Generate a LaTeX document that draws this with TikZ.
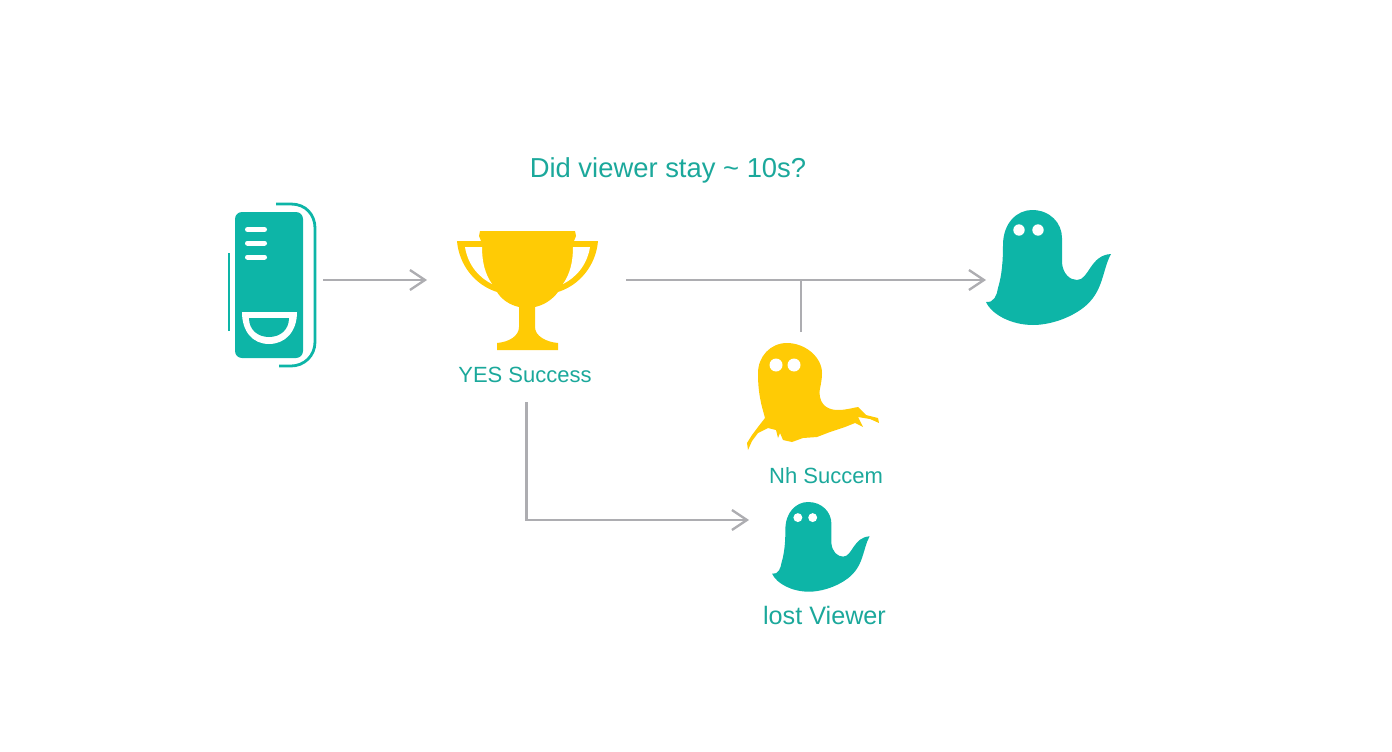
\documentclass[tikz,border=0pt]{standalone}
\usepackage{fontspec}
\setmainfont{Liberation Sans}
\usetikzlibrary{arrows.meta}
\definecolor{tealicon}{HTML}{0DB5A7}
\definecolor{tealtext}{HTML}{1BA89B}
\definecolor{goldicon}{HTML}{FFCB05}
\definecolor{flowgray}{HTML}{ADADB1}
\tikzset{
	icon/.style={inner sep=0pt,outer sep=0pt},
	flow/.style={draw=flowgray,line width=2.3pt,-{Straight Barb[length=15pt,width=20pt,line width=2.3pt]}},
	branch/.style={draw=flowgray,line width=2.3pt},
	lbl/.style={text=tealtext,inner sep=0pt,font=\fontsize{22}{26}\selectfont},
	pics/ghost/.style={code={
		\fill [tealicon] (-46,42) .. controls (-38,43) and (-35,35) .. (-34,28)
			.. controls (-30,15) and (-29,0) .. (-29,-15)
			.. controls (-29,-37) and (-15,-50) .. (0,-50)
			.. controls (18,-50) and (30,-37) .. (30,-22) -- (30,3)
			.. controls (31,14) and (38,20) .. (45,20)
			.. controls (57,20) and (58,-5) .. (79,-6)
			.. controls (70,10) and (72,32) .. (51,48)
			.. controls (35,60) and (15,65) .. (1,65)
			.. controls (-20,65) and (-40,55) .. (-46,42) -- cycle;
		\fill [white] (-13,-30) circle (5.7);
		\fill [white] (6,-30) circle (5.7);
	}}
}
\begin{document}
\begin{tikzpicture}[x=1pt,y=-1pt]
	\useasboundingbox (0,0) rectangle (1392,752);
	% boxes the connectors end on
	\node [icon,minimum width=98pt,minimum height=170pt] (device) at (274,280) {};
	\node [icon,minimum width=199pt,minimum height=244pt] (trophy) at (526.5,280) {};
	\node [icon,minimum width=125pt,minimum height=125pt] (ghostright) at (1048.5,280) {};
	\node [icon,minimum width=130pt,minimum height=116pt] (ghostno) at (801,390) {};
	\node [icon,minimum width=118pt,minimum height=90pt] (ghostlost) at (808,520) {};
	% device
	\fill [tealicon,rounded corners=7pt] (235,212) rectangle (303,358);
	\draw [white,line width=5pt,line cap=round] (247.5,229.5) to (264.5,229.5);
	\draw [white,line width=5pt,line cap=round] (247.5,243) to (264.5,243);
	\draw [white,line width=5pt,line cap=round] (247.5,257) to (264.5,257);
	\fill [white] (242,312) -- (297,312) .. controls (297,332) and (285,344) .. (269,344)
		.. controls (253,344) and (242,332) .. (242,312) -- cycle;
	\fill [tealicon] (249,318) -- (289,318) .. controls (289,330) and (280,337) .. (269,337)
		.. controls (258,337) and (249,330) .. (249,318) -- cycle;
	\draw [tealicon,line width=2.8pt] (276,204) -- (291,204) .. controls (306,204) and (315,215) .. (315,228)
		-- (315,342) .. controls (315,356) and (304,366) .. (291,366) -- (279,366);
	\draw [tealicon,line width=2.8pt] (229,253) to (229,331);
	% trophy
	\fill [goldicon] (480,231) -- (575,231) -- (576,236) -- (574,241) -- (598,241)
		.. controls (596,265) and (580,285) .. (558,292)
		.. controls (552,300) and (544,305) .. (535,307) -- (535,327)
		.. controls (535,336) and (546,342) .. (558,343) -- (558,350) -- (497,350) -- (497,343)
		.. controls (509,342) and (519,336) .. (519,327) -- (519,307)
		.. controls (510,305) and (502,300) .. (497,292)
		.. controls (475,285) and (459,265) .. (457,241) -- (481,241) -- (479,236) -- cycle;
	\fill [white] (465,247) -- (482,247) .. controls (482,262) and (485,274) .. (492,284)
		.. controls (480,278) and (468,266) .. (465,247) -- cycle;
	\fill [white] (590,247) -- (573,247) .. controls (573,262) and (570,274) .. (563,284)
		.. controls (575,278) and (587,266) .. (590,247) -- cycle;
	% ghosts
	\pic at (1032,260) {ghost};
	\pic [scale=0.78] at (808,541) {ghost};
	\fill [goldicon] (787,343) .. controls (805,343) and (822,357) .. (822,373)
		.. controls (822,385) and (818,391) .. (820,397)
		.. controls (822,407) and (830,410) .. (838,410)
		.. controls (846,410) and (852,408) .. (858,407)
		-- (866,415) -- (878,418) -- (879,423) -- (870,419) -- (858,417) -- (863,427)
		-- (855,423) -- (845,427) -- (830,432) -- (817,437) -- (803,438) -- (792,442)
		-- (783,440) -- (780,433) -- (778,438) -- (776,430) -- (768,428) -- (758,433)
		-- (752,441) -- (748,450) -- (747,443) -- (752,435) -- (758,427) -- (765,418)
		-- (762,407) .. controls (759,395) and (758,385) .. (758,373)
		.. controls (758,357) and (770,343) .. (787,343) -- cycle;
	\fill [white] (776,365) circle (6.5);
	\fill [white] (794,365) circle (6.5);
	% texts
	\node [lbl,font=\fontsize{27.4}{32}\selectfont] (question) at (668,170) {Did viewer stay \textasciitilde{} 10s?};
	\node [lbl] (yes) at (525,375) {YES Success};
	\node [lbl] (no) at (826,476) {Nh Succem};
	\node [lbl,font=\fontsize{25.2}{30}\selectfont] (lost) at (824.5,615) {lost Viewer};
	% connectors
	\draw [flow] (device) to (trophy);
	\draw [flow] (trophy) to (ghostright);
	\draw [branch] (ghostno.north) to (ghostno.north |- trophy.east);
	\draw [flow] (trophy.south) |- (ghostlost.west);
\end{tikzpicture}
\end{document}
